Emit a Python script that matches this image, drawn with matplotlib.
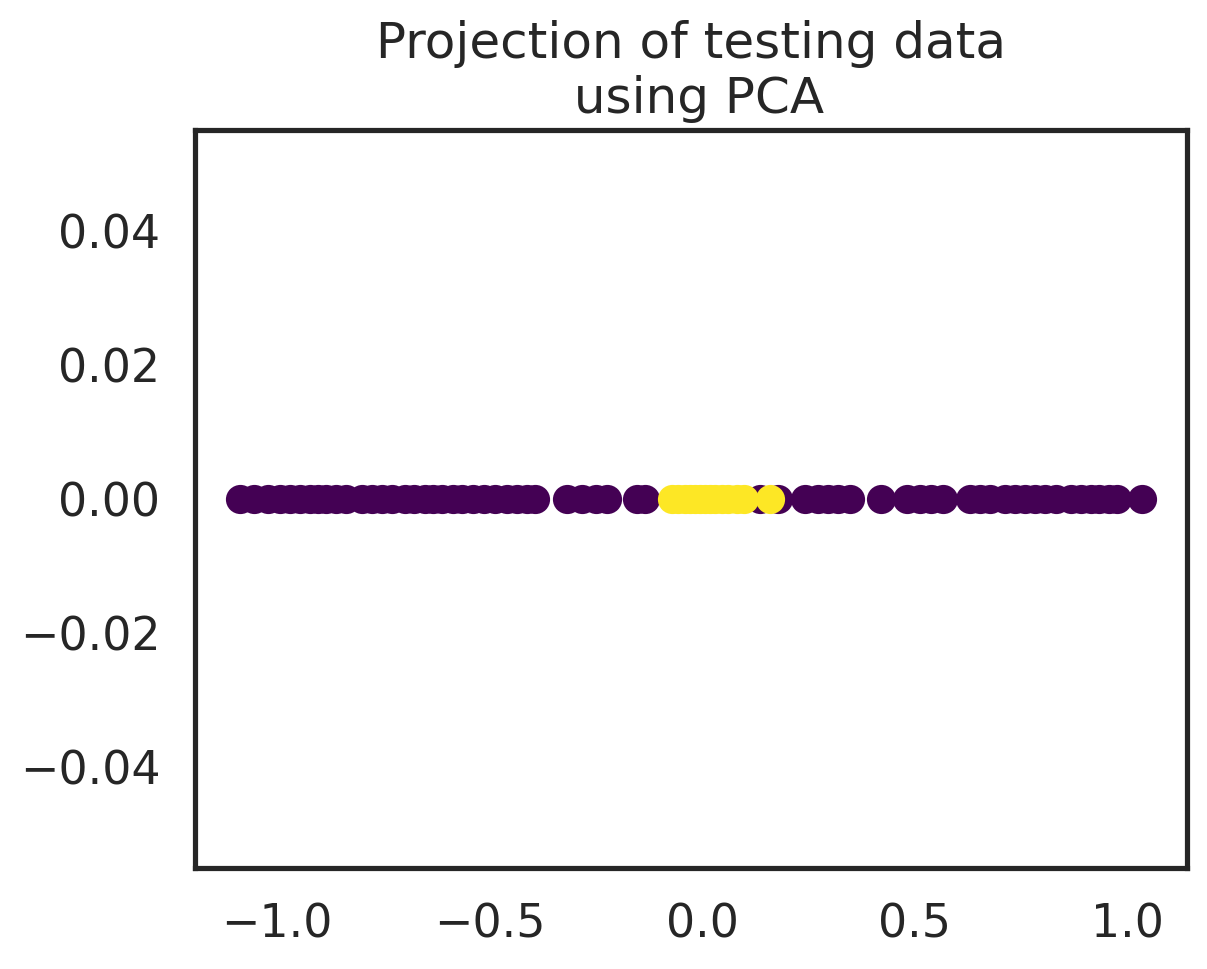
import matplotlib
matplotlib.use("Agg")
import matplotlib.pyplot as plt
import seaborn as sns
import numpy as np

# first principal component values (second component is zero for all points)
outer_x = [-1.087, -1.054, -1.021, -0.993, -0.969, -0.946, -0.922, -0.903, -0.884,
           -0.861, -0.837, -0.800, -0.776, -0.752, -0.729, -0.700, -0.677, -0.653,
           -0.634, -0.611, -0.587, -0.564, -0.540, -0.512, -0.488, -0.460, -0.436,
           -0.413, -0.394, -0.318, -0.283, -0.250, -0.224, -0.153, -0.134,
           0.137, 0.179, 0.243, 0.274, 0.297, 0.321, 0.349, 0.422, 0.483, 0.514,
           0.538, 0.568, 0.630, 0.653, 0.677, 0.712, 0.736, 0.759, 0.783, 0.807,
           0.833, 0.868, 0.892, 0.915, 0.934, 0.958, 0.976, 1.035]
inner_x = [-0.071, -0.057, -0.040, -0.028, -0.017, -0.005, 0.007, 0.019, 0.031,
           0.047, 0.061, 0.083, 0.098, 0.160]
outer_y = [0.0] * len(outer_x)
inner_y = [0.0] * len(inner_x)

sns.set_theme(style="white", context="talk")

W, H = 1207, 969
fig = plt.figure(figsize=(W / 200, H / 200), dpi=200)
ax = fig.add_axes([195 / W, (H - 868) / H, (1187 - 195) / W, (868 - 130) / H])

cmap = plt.get_cmap("viridis")
ax.scatter(outer_x, outer_y, color=cmap(0.0))
ax.scatter(inner_x, inner_y, color=cmap(1.0))

ax.set_title("Projection of testing data\n using PCA")
for s in ax.spines.values():
    s.set_color("0.15")

fig.savefig("out.png", dpi=200)
